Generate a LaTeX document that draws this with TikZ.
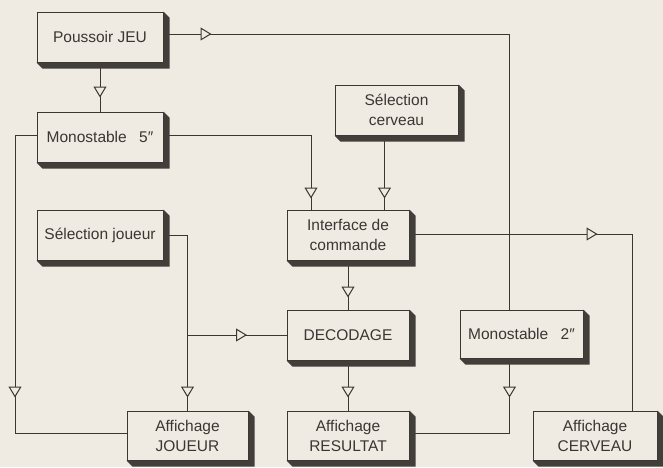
\documentclass[tikz,border=0pt]{standalone}
\usepackage{fontspec}
\setmainfont{Liberation Sans}
\usetikzlibrary{arrows.meta,decorations.markings,calc}
\definecolor{bgc}{RGB}{239,235,227}
\definecolor{ink}{RGB}{58,54,50}
\definecolor{shd}{RGB}{66,62,58}
\newcommand\boxshadow[1]{\fill[shd] (#1.north east) -- ++(6,6) -- ($(#1.south east)+(6,6)$) -- ($(#1.south west)+(6,6)$) -- (#1.south west) -- (#1.south east) -- cycle;}
\begin{document}
\begin{tikzpicture}[x=1pt,y=-1pt,
  blk/.style={draw=ink, fill=bgc, line width=1pt, minimum height=50pt, inner sep=0pt,
              align=center, text=ink, font=\fontsize{15.5}{20}\selectfont},
  wire/.style={draw=ink, line width=1pt},
  tip/.style={postaction={decorate,decoration={markings,
      mark=at position #1 with {\arrow{Triangle[length=11pt,width=13pt,fill=bgc]}}}}}]
\fill[bgc] (0,0) rectangle (663,467);
\useasboundingbox (0,0) rectangle (663,467);
% blocks
\node[blk, minimum width=126pt] (pj) at (100,37) {Poussoir JEU};
\node[blk, minimum width=126pt] (m5) at (100,137) {Monostable\hspace{0.8em}5\char"2033};
\node[blk, minimum width=126pt] (sj) at (100,235) {Sélection joueur};
\node[blk, minimum width=123pt] (sc) at (396.5,110) {Sélection\\cerveau};
\node[blk, minimum width=122pt] (ic) at (348,235) {Interface de\\commande};
\node[blk, minimum width=122pt] (dec) at (348,335) {DECODAGE};
\node[blk, minimum width=123pt, minimum height=48pt] (m2) at (521.5,334) {Monostable\hspace{0.8em}2\char"2033};
\node[blk, minimum width=121pt, minimum height=49pt] (aj) at (187.5,435.5) {Affichage\\JOUEUR};
\node[blk, minimum width=122pt, minimum height=49pt] (ar) at (348,435.5) {Affichage\\RESULTAT};
\node[blk, minimum width=124pt, minimum height=49pt] (ac) at (595,435.5) {Affichage\\CERVEAU};
% connectors
\coordinate (lft) at (15,433.5);
\draw[wire, tip=48pt] ([yshift=3pt]pj.east) -| ([xshift=-12pt]m2.north);
\draw[wire, tip=35pt] (pj.south) -- (m5.north);
\draw[wire, tip=284pt] ([yshift=2pt]m5.west) -| (lft) -- ([yshift=2pt]aj.west);
\draw[wire, tip=211pt] ([yshift=2pt]m5.east) -| ([xshift=-37pt]ic.north);
\draw[wire, tip=63pt] ([xshift=-12pt]sc.south) -- ([xshift=-12pt]sc.south |- ic.north);
\draw[wire, tip=188pt] ([yshift=1pt]ic.east) -| ([xshift=37pt]ac.north);
\draw[wire, tip=37pt] (ic.south) -- (dec.north);
\draw[wire, tip=37pt] (dec.south) -- (ar.north);
\draw[wire, tip=186.5pt] (sj.east) -| (aj.north);
\coordinate (jn) at (aj.north |- dec.west);
\draw[wire, tip=59.5pt] (jn) -- (dec.west);
\draw[wire, tip=39pt] ([xshift=-12pt]m2.south) |- ([yshift=2pt]ar.east);
% shadows
\foreach \n in {pj,m5,sj,sc,ic,dec,m2,aj,ar,ac} {\boxshadow{\n}}
\end{tikzpicture}
\end{document}
